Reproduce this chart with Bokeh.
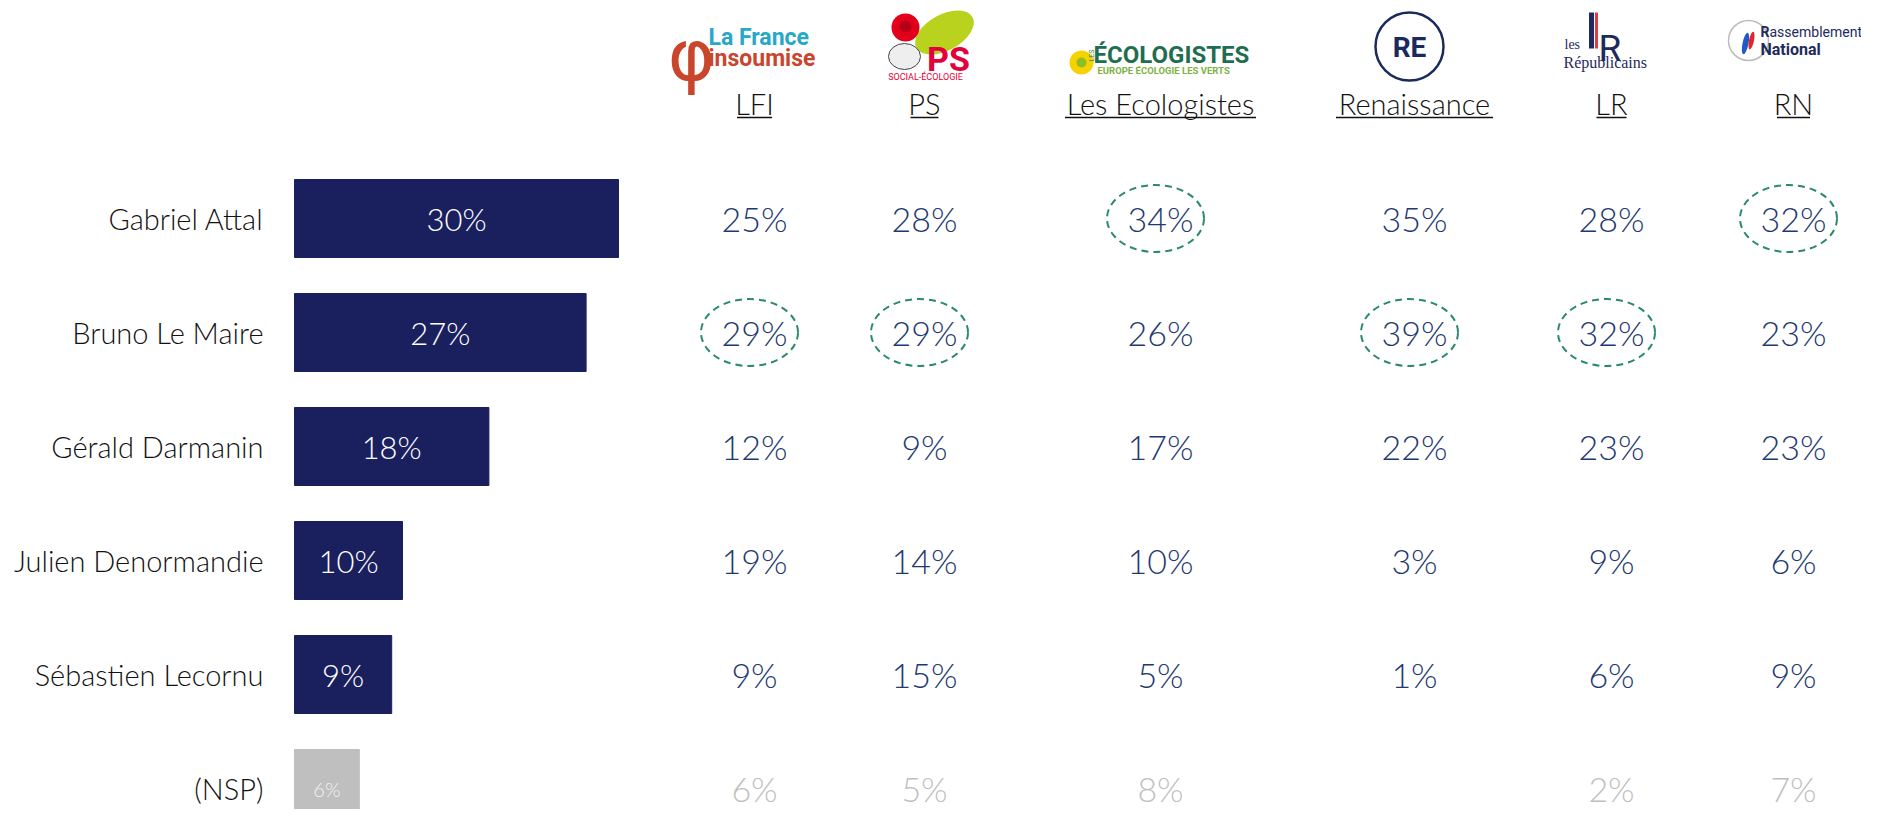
import math
from bokeh.plotting import figure
from bokeh.models import Range1d, ColumnDataSource
from bokeh.core.properties import value
from bokeh.embed import file_html
from bokeh.resources import INLINE

# ---------------- data ----------------
names = ["Gabriel Attal", "Bruno Le Maire", "Gérald Darmanin",
         "Julien Denormandie", "Sébastien Lecornu", "(NSP)"]
total = [30, 27, 18, 10, 9, 6]

parties = ["LFI", "PS", "Les Ecologistes", "Renaissance", "LR", "RN"]
lfi = [25, 29, 12, 19, 9, 6]
ps = [28, 29, 9, 14, 15, 5]
eco = [34, 26, 17, 10, 5, 8]
ren = [35, 39, 22, 3, 1, None]
lr = [28, 32, 23, 9, 6, 2]
rn = [32, 23, 23, 6, 9, 7]
columns = [lfi, ps, eco, ren, lr, rn]

# ---------------- layout (page pixels) ----------------
X0, XS = 294.0, 10.8      # pixel of 0 %, pixels per %
Y0, YS = 218.0, 114.0     # pixel of first row, row pitch
W, H = 1861, 809
OX, OY = 0, 0             # page offset of the canvas


def fx(px):
    return (px - X0) / XS


def fy(py):
    return (py - Y0) / YS


col_px = [754, 924, 1160, 1414, 1611, 1793]
underline_px = [35, 28, 191, 157, 30, 33]

FONT = value("Lato Light")
NAVY_BAR = "#1a1f5e"
VAL_COL = "#1f3a72"
GREY = "#bfbfbf"
GREEN = "#2a8a6a"

p = figure(width=W, height=H, output_backend="svg", toolbar_location=None,
           x_range=Range1d(fx(OX), fx(OX + W)),
           y_range=Range1d(fy(OY + H), fy(OY)),
           min_border=0)
p.axis.visible = False
p.grid.visible = False
p.outline_line_color = None
p.background_fill_color = "white"
p.border_fill_color = "white"

rows = list(range(len(names)))
is_nsp = [n == "(NSP)" for n in names]

# ---------------- bars ----------------
bar_src = ColumnDataSource(dict(
    y=rows, right=total,
    color=[GREY if n else NAVY_BAR for n in is_nsp],
    mid=[t / 2 for t in total],
    label=[f"{t}%" for t in total],
    lsize=["20px" if n else "31px" for n in is_nsp],
    lcol=["#f4f4f4" if n else "white" for n in is_nsp],
))
p.hbar(y="y", left=0, right="right", height=78 / YS, fill_color="color",
       line_color="color", source=bar_src)
p.text(x="mid", y="y", text="label", text_color="lcol", text_font_size="lsize",
       text_align="center", text_baseline="middle", text_font=FONT, source=bar_src)

# names
p.text(x=[fx(263)] * len(names), y=rows, text=names, text_color="#111111",
       text_font_size="29px", text_align="right", text_baseline="middle",
       text_font=FONT)

# ---------------- party columns ----------------
for ci, col in enumerate(columns):
    cx = col_px[ci]
    xs, ys, txt, clr = [], [], [], []
    for r, v in enumerate(col):
        if v is None:
            continue
        xs.append(fx(cx))
        ys.append(r)
        txt.append(f"{v}%")
        clr.append(GREY if is_nsp[r] else VAL_COL)
    p.text(x=xs, y=ys, text=txt, text_color=clr, text_font_size="34px",
           text_align="center", text_baseline="middle", text_font=FONT)
    # highlight the best candidate of each electorate
    vals = [v if v is not None and not is_nsp[i] else -1 for i, v in enumerate(col)]
    best = vals.index(max(vals))
    p.ellipse(x=[fx(cx - 5)], y=[best], width=97, height=67,
              width_units="screen", height_units="screen",
              fill_color=None, line_color=GREEN, line_width=2, line_dash="7 5")
    # header
    p.text(x=[fx(cx)], y=[fy(103)], text=[parties[ci]], text_color="#111111",
           text_font_size="29px", text_align="center", text_baseline="middle",
           text_font=FONT)
    w = underline_px[ci]
    p.segment(x0=[fx(cx - w / 2)], x1=[fx(cx + w / 2)], y0=[fy(117)], y1=[fy(117)],
              line_color="#111111", line_width=1.5)

# ---------------- logos (approximations) ----------------
# LFI
p.text(x=[fx(691)], y=[fy(54)], text=["φ"], text_color="#c9452c", text_font_size="72px",
       text_align="center", text_baseline="middle", text_font=value("DejaVu Sans"))
p.text(x=[fx(708)], y=[fy(37)], text=["La France"], text_color="#27a8c9",
       text_font_size="23px", text_font_style="bold", text_align="left",
       text_baseline="middle", text_font=value("Roboto"))
p.text(x=[fx(708)], y=[fy(58)], text=["insoumise"], text_color="#c9452c",
       text_font_size="23px", text_font_style="bold", text_align="left",
       text_baseline="middle", text_font=value("Roboto"))

# PS
p.ellipse(x=[fx(944)], y=[fy(32)], width=64, height=36, width_units="screen",
          height_units="screen", angle=0.5, fill_color="#b9d21e", line_color=None)
p.ellipse(x=[fx(904)], y=[fy(56)], width=32, height=26, width_units="screen",
          height_units="screen", fill_color="#eeeeee", line_color="#444444", line_width=1)
p.circle(x=[fx(905)], y=[fy(27)], radius=14, radius_units="screen",
         fill_color="#e3001b", line_color=None)
p.circle(x=[fx(905)], y=[fy(26)], radius=6, radius_units="screen",
         fill_color="#b50016", line_color=None)
p.text(x=[fx(948)], y=[fy(58)], text=["PS"], text_color="#e4003a", text_font_size="34px",
       text_font_style="bold", text_align="center", text_baseline="middle",
       text_font=value("Roboto"))
p.text(x=[fx(925)], y=[fy(76)], text=["SOCIAL-ÉCOLOGIE"], text_color="#e4003a",
       text_font_size="9px", text_align="center", text_baseline="middle",
       text_font=value("Roboto"))

# Les Ecologistes
p.circle(x=[fx(1081)], y=[fy(62)], radius=12, radius_units="screen",
         fill_color="#f6d300", line_color=None)
p.circle(x=[fx(1081)], y=[fy(62)], radius=5, radius_units="screen",
         fill_color="#8dbe22", line_color=None)
p.text(x=[fx(1091)], y=[fy(55)], text=["LES"], text_color="#2e8b57", text_font_size="7px",
       angle=math.pi / 2, text_align="center", text_baseline="middle",
       text_font=value("Roboto"))
p.text(x=[fx(1093)], y=[fy(54)], text=["ÉCOLOGISTES"], text_color="#1f6e50",
       text_font_size="24px", text_font_style="bold", text_align="left",
       text_baseline="middle", text_font=value("Roboto"))
p.text(x=[fx(1097)], y=[fy(70)], text=["EUROPE ÉCOLOGIE LES VERTS"], text_color="#7cb342",
       text_font_size="9.5px", text_font_style="bold", text_align="left",
       text_baseline="middle", text_font=value("Roboto"))

# Renaissance
p.circle(x=[fx(1409)], y=[fy(46)], radius=34, radius_units="screen",
         fill_color=None, line_color="#1b2a5e", line_width=2.5)
p.text(x=[fx(1409)], y=[fy(47)], text=["RE"], text_color="#1b2a5e", text_font_size="28px",
       text_font_style="bold", text_align="center", text_baseline="middle",
       text_font=value("Roboto"))

# LR
p.rect(x=[fx(1591)], y=[fy(30)], width=5, height=36, width_units="screen",
       height_units="screen", fill_color="#1e2a5c", line_color=None)
p.rect(x=[fx(1596)], y=[fy(30)], width=3, height=36, width_units="screen",
       height_units="screen", fill_color="#e63946", line_color=None)
p.text(x=[fx(1598)], y=[fy(48)], text=["R"], text_color="#1e2a5c", text_font_size="37px",
       text_align="left", text_baseline="alphabetic", text_font=value("Roboto"))
p.text(x=[fx(1564)], y=[fy(44)], text=["les"], text_color="#1e2a5c", text_font_size="14px",
       text_align="left", text_baseline="middle", text_font=value("Liberation Serif"))
p.text(x=[fx(1563)], y=[fy(62)], text=["Républicains"], text_color="#1e2a5c",
       text_font_size="16px", text_align="left", text_baseline="middle",
       text_font=value("Liberation Serif"))

# RN
p.circle(x=[fx(1748)], y=[fy(40)], radius=20, radius_units="screen",
         fill_color=None, line_color="#bbbbbb", line_width=1.5)
p.ellipse(x=[fx(1745)], y=[fy(43)], width=6, height=22, width_units="screen",
          height_units="screen", angle=-0.2, fill_color="#1e5bc6", line_color=None)
p.ellipse(x=[fx(1751)], y=[fy(40)], width=5, height=18, width_units="screen",
          height_units="screen", angle=-0.2, fill_color="#e3262d", line_color=None)
p.text(x=[fx(1760)], y=[fy(31)], text=["R"], text_color="#1e2a5c", text_font_size="14px",
       text_font_style="bold", text_align="left", text_baseline="middle",
       text_font=value("Roboto"))
p.text(x=[fx(1769)], y=[fy(31)], text=["assemblement"], text_color="#1e2a5c",
       text_font_size="14px", text_align="left", text_baseline="middle",
       text_font=value("Roboto"))
p.text(x=[fx(1760)], y=[fy(49)], text=["National"], text_color="#1e2a5c",
       text_font_size="16px", text_font_style="bold", text_align="left",
       text_baseline="middle", text_font=value("Roboto"))

open("out.html", "w").write(file_html(p, INLINE))
